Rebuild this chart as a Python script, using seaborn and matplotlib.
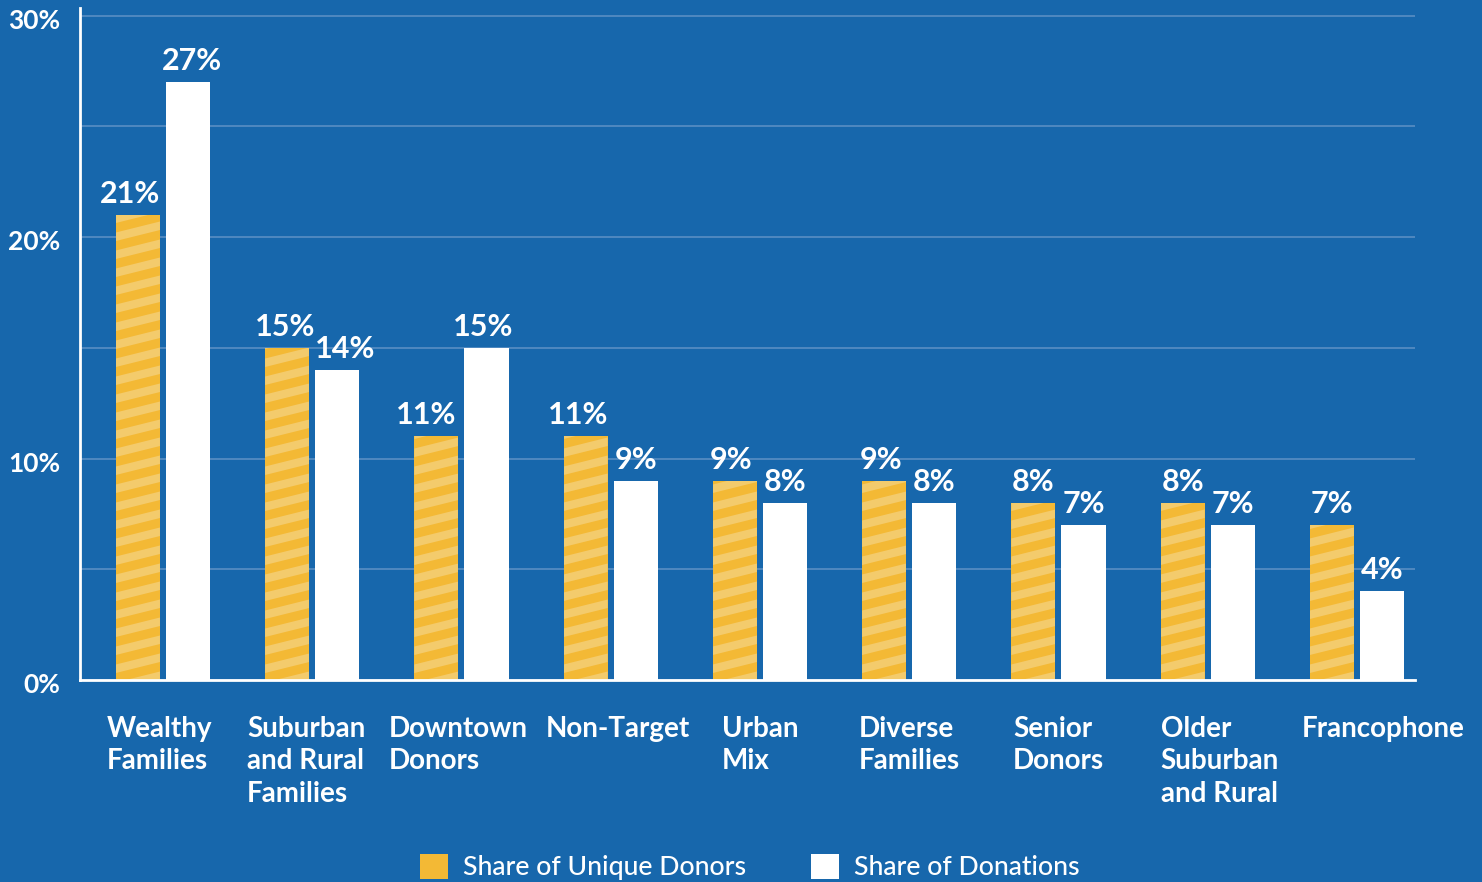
import numpy as np
import pandas as pd
import seaborn as sns
import matplotlib.pyplot as plt
from matplotlib.collections import PolyCollection
from matplotlib.transforms import IdentityTransform, ScaledTranslation
from matplotlib.patches import Patch

# Donor segments and the two shares for each
segments = [
    "Wealthy\nFamilies",
    "Suburban\nand Rural\nFamilies",
    "Downtown\nDonors",
    "Non-Target",
    "Urban\nMix",
    "Diverse\nFamilies",
    "Senior\nDonors",
    "Older\nSuburban\nand Rural",
    "Francophone",
]
unique_donors = [21, 15, 11, 11, 9, 9, 8, 8, 7]
donations = [27, 14, 15, 9, 8, 8, 7, 7, 4]
series_names = ["Share of Unique Donors", "Share of Donations"]
y_ticks = [0, 10, 20, 30]
y_tick_labels = ["0%", "10%", "20%", "30%"]

BG = "#1767ac"
GOLD = "#f3b935"
STRIPE = "#f3cb6c"
WHITE = "#ffffff"
GRID = "#4f88c0"

df = pd.DataFrame({
    "segment": segments * 2,
    "share": unique_donors + donations,
    "metric": [series_names[0]] * len(segments) + [series_names[1]] * len(segments),
})

sns.set_theme(style="white")
plt.rcParams["font.family"] = ["Lato", "DejaVu Sans"]

W, H = 1482, 882
fig = plt.figure(figsize=(W / 100, H / 100), dpi=100, facecolor=BG)
ax = fig.add_axes([80 / W, (H - 680) / H, (1415 - 80) / W, (680 - 8) / H])
ax.set_facecolor(BG)

sns.barplot(
    data=df, x="segment", y="share", hue="metric",
    palette=[GOLD, WHITE], saturation=1, width=0.672, gap=0.12,
    linewidth=0, legend=False, ax=ax, zorder=3,
)

ax.set_xlim(-0.556, 8.389)
ax.set_ylim(0, 30.35)
ax.autoscale(False)


def nudge(artist, dx=0, dy=0):
    """Shift a text artist by a few pixels."""
    artist.set_transform(artist.get_transform()
                         + ScaledTranslation(dx / 100, dy / 100, fig.dpi_scale_trans))


# grid every 5%, labels every 10%
ax.set_yticks(y_ticks)
ax.set_yticklabels(y_tick_labels)
ax.set_yticks([5, 15, 25], minor=True)
ax.grid(axis="y", which="both", color=GRID, linewidth=1.4, zorder=0)
ax.grid(axis="x", visible=False)
ax.set_axisbelow(True)
ax.tick_params(axis="y", which="both", length=0, pad=14, labelsize=19,
               labelcolor=WHITE)
for t in ax.get_yticklabels():
    t.set_fontweight("bold")
    nudge(t, 0, -3)

ax.set_xticks(range(len(segments)))
ax.set_xticklabels(segments, fontsize=20, fontweight="bold", color=WHITE,
                   multialignment="left", linespacing=1.3)
ax.tick_params(axis="x", length=0, pad=26)
ax.set_xlabel("")
ax.set_ylabel("")

# small horizontal nudges for the category labels (pixels)
label_shift = [-3, -6, -3, 7, 0, 0, 0, 12, 26]
for lab, dx in zip(ax.get_xticklabels(), label_shift):
    nudge(lab, dx, 0)

for side in ["top", "right"]:
    ax.spines[side].set_visible(False)
for side in ["left", "bottom"]:
    ax.spines[side].set_color(WHITE)
    ax.spines[side].set_linewidth(2)
    ax.spines[side].set_zorder(4)

# value labels above each bar, pushed apart where neighbours are close (pixels)
value_shift = [
    [-8, -2, -10, -8, -4, -3, 0, 0, 0],
    [4, 8, -3, 0, 0, 0, 0, 0, 0],
]
pad_pts = 5
for container, shifts in zip(ax.containers, value_shift):
    texts = ax.bar_label(container, labels=[f"{v:.0f}%" for v in container.datavalues],
                         padding=pad_pts, color=WHITE, fontsize=22, fontweight="bold")
    for txt, dx in zip(texts, shifts):
        txt.xyann = (dx * 72 / 100, pad_pts)

# light diagonal stripes on the gold bars
slope = np.tan(np.radians(14))
period, band = 18.0, 8.5
for bar in ax.containers[0]:
    ext = bar.get_window_extent()
    x0, x1, y0, y1 = ext.x0, ext.x1, ext.y0, ext.y1
    rise = (x1 - x0) * slope
    polys = []
    k = y0 - rise - period
    while k < y1 + period:
        polys.append([(x0, k), (x1, k + rise), (x1, k + rise + band), (x0, k + band)])
        k += period
    pc = PolyCollection(polys, facecolors=STRIPE, edgecolors="none",
                        transform=IdentityTransform(), zorder=3.5)
    ax.add_collection(pc, autolim=False)
    pc.set_clip_path(bar)

handles = [Patch(facecolor=GOLD, edgecolor="none"), Patch(facecolor=WHITE, edgecolor="none")]
fig.legend(handles, series_names, loc="center left",
           bbox_to_anchor=(420 / W, 15 / H), ncol=2, frameon=False,
           handlelength=1.05, handleheight=1.05,
           handletextpad=0.58, columnspacing=2.4, borderpad=0, borderaxespad=0,
           labelcolor=WHITE, prop={"weight": "medium", "size": 19.2})

fig.savefig("out.png", dpi=100, facecolor=BG)
